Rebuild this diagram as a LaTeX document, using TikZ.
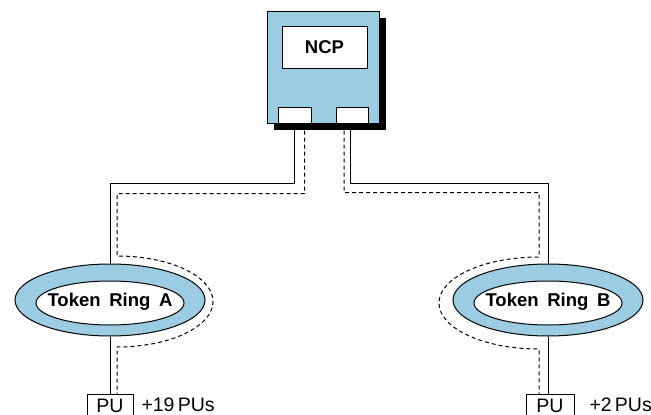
\documentclass[tikz,border=0pt]{standalone}
\usepackage{fontspec}
\setmainfont{Liberation Sans}
\usetikzlibrary{shapes.geometric, shadows, positioning}
\definecolor{ringblue}{RGB}{155,204,226}
\tikzset{every picture/.style={line width=1pt}}

\begin{document}
\begin{tikzpicture}[x=1pt,y=-1pt,font=\fontsize{19.5}{22}\selectfont,
        box/.style={draw,fill=white,inner sep=0pt},
        ring/.style={ellipse,draw,fill=ringblue,inner sep=0pt,minimum width=190pt,minimum height=72pt,
            text depth=-2pt,font=\fontsize{18.5}{21}\selectfont\bfseries,
            path picture={\draw[fill=white] ([yshift=-3pt]path picture bounding box.center) ellipse[x radius=74pt,y radius=22pt];}},
        route/.style={dash pattern=on 4pt off 3pt}]
        \useasboundingbox (0,0) rectangle (651,415);

        % NCP with its two ports
        \node[draw,fill=ringblue,minimum width=112pt,minimum height=112pt,
            drop shadow={shadow xshift=7pt,shadow yshift=-7pt,fill=black,opacity=1}] (ncp) at (323,67) {};
        \node[box,minimum width=85pt,minimum height=42pt,font=\fontsize{18.5}{21}\selectfont\bfseries] (ncplabel) at (324.5,47) {NCP};
        \node[box,minimum width=33pt,minimum height=16pt] (portA) at (294.5,115) {};
        \node[box,minimum width=32pt,minimum height=16pt] (portB) at (352,115) {};

        % the rings
        \node[ring] (ringA) at (110,300) {Token\hspace{0.47em}Ring\hspace{0.47em}A};
        \node[ring] (ringB) at (548,300) {Token\hspace{0.47em}Ring\hspace{0.47em}B};

        \node[box,anchor=north,minimum width=46pt,minimum height=26pt] (puA) at (110,394) {};
        \node[box,anchor=north,minimum width=48pt,minimum height=26pt] (puB) at (550,394) {};
        \node[anchor=base,inner sep=0pt] (puAtext) at (110,412) {PU};
        \node[anchor=base,inner sep=0pt] (puBtext) at (550,412) {PU};
        \node[anchor=base west,inner sep=0pt] (moreA) at (141,411.5) {+19\,PUs};
        \node[anchor=base west,inner sep=0pt] (moreB) at (589,411.5) {+2\,PUs};

        \coordinate (tA) at (117,256);
        \coordinate (tB) at (539,257);

        \draw (portA.south) -- ++(0,60) -| (ringA.north);
        \draw ([xshift=-2pt]portB.south) -- ++(0,60) -| (ringB.north);
        \draw (ringA.south) -- (ringA.south |- puA.north);
        \draw (ringB.south) -- (ringB.south |- puB.north);

        \draw[route] ([xshift=10pt]portA.south) -- ++(0,70) -| (tA)
            arc[start angle=90,end angle=-90,x radius=96pt,y radius=45.5pt] -- (puA.north -| tA);
        \draw[route] ([xshift=-8pt]portB.south) -- ++(0,69) -| (tB)
            arc[start angle=90,end angle=270,x radius=100pt,y radius=46pt] -- (puB.north -| tB);
\end{tikzpicture}
\end{document}
